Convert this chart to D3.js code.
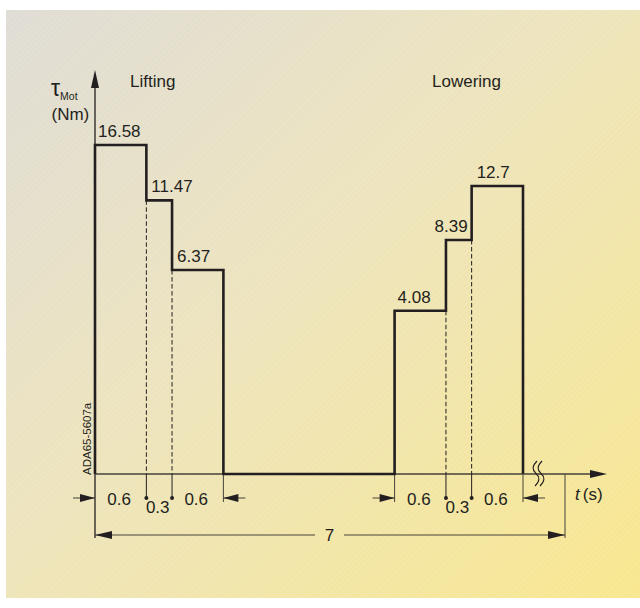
<!DOCTYPE html>
<html>
<head>
<meta charset="utf-8">
<script src="https://cdn.jsdelivr.net/npm/d3@7"></script>
<style>
  html, body { margin: 0; padding: 0; background: #ffffff; }
  svg { display: block; font-family: "Liberation Sans", Arial, Helvetica, sans-serif; }
</style>
</head>
<body>
<svg id="chart" width="640" height="608"></svg>
<script>
// Motor torque profile of one hoist cycle: lifting, pause, lowering.
const stepDurations = [0.6, 0.3, 0.6];          // s, length of each torque step
const liftTorque    = [16.58, 11.47, 6.37];     // Nm, lifting steps
const lowerTorque   = [4.08, 8.39, 12.7];       // Nm, lowering steps
const liftStart     = 0;                        // s
const lowerStart    = 3.5;                      // s
const cycleTime     = 7;                        // s
const stepLabels    = ["0.6", "0.3", "0.6"];
const phaseLabels   = ["Lifting", "Lowering"];

const svg = d3.select("#chart");
const ink = "#231f20";
const thin = "#46423a";

// ---- background panel: grey-beige to yellow with fine diagonal hatching ----
const defs = svg.append("defs");
const grad = defs.append("linearGradient").attr("id", "bg")
  .attr("x1", "0%").attr("y1", "0%").attr("x2", "100%").attr("y2", "100%");
grad.append("stop").attr("offset", "0%").attr("stop-color", "#dfdcd5");
grad.append("stop").attr("offset", "45%").attr("stop-color", "#ede4bd");
grad.append("stop").attr("offset", "100%").attr("stop-color", "#f8e78e");
const hatch = defs.append("pattern").attr("id", "hatch")
  .attr("patternUnits", "userSpaceOnUse").attr("width", 4).attr("height", 4)
  .attr("patternTransform", "rotate(45)");
hatch.append("line").attr("x1", 0).attr("y1", 0).attr("x2", 0).attr("y2", 4)
  .attr("stroke", "#ffffff").attr("stroke-width", 0.8).attr("stroke-opacity", 0.28);

svg.append("rect").attr("x", 6).attr("y", 10).attr("width", 634).attr("height", 588)
  .attr("fill", "url(#bg)");
svg.append("rect").attr("x", 6).attr("y", 10).attr("width", 634).attr("height", 588)
  .attr("fill", "url(#hatch)");

// ---- scales (time axis is broken after the lowering phase) ----
const x = d3.scaleLinear().domain([0, 5, cycleTime]).range([95, 523, 565]);
const y = d3.scaleSqrt().domain([0, 16.58]).range([474, 145]);

// build step segments
function steps(start, values) {
  let t = start;
  return values.map((v, i) => {
    const s = { t0: t, t1: t + stepDurations[i], v, i };
    t += stepDurations[i];
    return s;
  });
}
const lift = steps(liftStart, liftTorque);
const lower = steps(lowerStart, lowerTorque);

// torque profile as a step line
const profile = [{ t: liftStart, v: 0 }]
  .concat(lift.map(s => ({ t: s.t0, v: s.v })))
  .concat([{ t: lift[2].t1, v: 0 }])
  .concat(lower.map(s => ({ t: s.t0, v: s.v })))
  .concat([{ t: lower[2].t1, v: 0 }]);

// ---- axes ----
function arrowHead(tipX, tipY, dir, len = 16, half = 4) {
  let p;
  if (dir === "up") p = [[tipX, tipY], [tipX - half, tipY + len], [tipX + half, tipY + len]];
  else if (dir === "right") p = [[tipX, tipY], [tipX - len, tipY - half], [tipX - len, tipY + half]];
  else p = [[tipX, tipY], [tipX + len, tipY - half], [tipX + len, tipY + half]];
  svg.append("path").attr("d", "M" + p.join("L") + "Z").attr("fill", ink);
}

// y axis (continues down as the extension line of the cycle dimension)
svg.append("line").attr("x1", x(0)).attr("x2", x(0)).attr("y1", 538).attr("y2", 80)
  .attr("stroke", ink).attr("stroke-width", 1.3);
arrowHead(x(0), 70, "up", 18, 4);

// x axis
svg.append("line").attr("x1", x(0)).attr("x2", 596).attr("y1", y(0)).attr("y2", y(0))
  .attr("stroke", thin).attr("stroke-width", 1.3);
arrowHead(607, y(0), "right", 17, 4);

// axis break marks
[536, 541].forEach(bx => {
  svg.append("path")
    .attr("d", `M${bx + 1},461 C${bx - 4},466 ${bx - 4},470 ${bx},473.5 C${bx + 4},477 ${bx + 4},481 ${bx - 1},486`)
    .attr("fill", "none").attr("stroke", ink).attr("stroke-width", 1.1);
});

// ---- dashed step dividers ----
function dividers(seg) {
  seg.slice(1).forEach((s, k) => {
    const prev = seg[k];
    const top = y(Math.min(s.v, prev.v));
    svg.append("line").attr("x1", x(s.t0)).attr("x2", x(s.t0))
      .attr("y1", top).attr("y2", y(0))
      .attr("stroke", ink).attr("stroke-width", 1).attr("stroke-dasharray", "4.5,2.5");
  });
}
dividers(lift);
dividers(lower);

// ---- torque profile ----
const line = d3.line().x(d => x(d.t)).y(d => y(d.v)).curve(d3.curveStepAfter);
svg.append("path").datum(profile).attr("d", line)
  .attr("fill", "none").attr("stroke", ink).attr("stroke-width", 2.6)
  .attr("stroke-linejoin", "miter");

// ---- value labels ----
const fontSize = 17;
function valueLabels(seg) {
  seg.forEach((s, i) => {
    const next = seg[i + 1];
    const narrow = x(s.t1) - x(s.t0) < 35;
    const rightAlign = narrow && next && next.v > s.v;
    svg.append("text")
      .attr("x", rightAlign ? x(s.t1) - 4 : x(s.t0) + (i === 0 ? 3 : 5))
      .attr("y", y(s.v) - 8)
      .attr("text-anchor", rightAlign ? "end" : "start")
      .attr("font-size", fontSize).attr("fill", ink)
      .text(d3.format("")(s.v));
  });
}
valueLabels(lift);
valueLabels(lower);

// ---- step duration dimensions below the axis ----
const dimY = 498;
function stepDims(seg) {
  const a = x(seg[0].t0), b = x(seg[2].t1);
  [a, b].forEach(px => {
    if (px !== x(0)) {
      svg.append("line").attr("x1", px).attr("x2", px).attr("y1", y(0) + 1).attr("y2", 502)
        .attr("stroke", thin).attr("stroke-width", 1);
    }
  });
  // outside arrows pointing inward
  svg.append("line").attr("x1", a - 22).attr("x2", a).attr("y1", dimY).attr("y2", dimY)
    .attr("stroke", thin).attr("stroke-width", 1);
  arrowHead(a, dimY, "right", 15, 4);
  svg.append("line").attr("x1", b).attr("x2", b + 22).attr("y1", dimY).attr("y2", dimY)
    .attr("stroke", thin).attr("stroke-width", 1);
  arrowHead(b, dimY, "left", 15, 4);
  // inner step boundaries with dot ends
  seg.slice(1).forEach(s => {
    const px = x(s.t0);
    svg.append("line").attr("x1", px).attr("x2", px).attr("y1", y(0)).attr("y2", dimY)
      .attr("stroke", ink).attr("stroke-width", 1);
    svg.append("circle").attr("cx", px).attr("cy", dimY).attr("r", 2).attr("fill", ink);
  });
  // duration labels
  seg.forEach((s, i) => {
    svg.append("text")
      .attr("x", (x(s.t0) + x(s.t1)) / 2 - 1.5)
      .attr("y", i === 1 ? 513 : 505)
      .attr("text-anchor", "middle")
      .attr("font-size", fontSize).attr("fill", ink)
      .text(stepLabels[i]);
  });
}
stepDims(lift);
stepDims(lower);

// ---- cycle time dimension ----
const cy = 535;
svg.append("line").attr("x1", x(cycleTime)).attr("x2", x(cycleTime)).attr("y1", y(0)).attr("y2", 538)
  .attr("stroke", thin).attr("stroke-width", 1);
svg.append("line").attr("x1", x(0)).attr("x2", 315).attr("y1", cy).attr("y2", cy)
  .attr("stroke", thin).attr("stroke-width", 1.1);
svg.append("line").attr("x1", 344).attr("x2", x(cycleTime)).attr("y1", cy).attr("y2", cy)
  .attr("stroke", thin).attr("stroke-width", 1.1);
arrowHead(x(0), cy, "left", 17, 4);
arrowHead(x(cycleTime), cy, "right", 17, 4);
svg.append("text").attr("x", 329.5).attr("y", cy + 6).attr("text-anchor", "middle")
  .attr("font-size", fontSize).attr("fill", ink).text(d3.format("")(cycleTime));

// ---- titles and axis labels ----
svg.append("text").attr("x", 130).attr("y", 87).attr("font-size", fontSize).attr("fill", ink)
  .text(phaseLabels[0]);
svg.append("text").attr("x", 432).attr("y", 87).attr("font-size", fontSize).attr("fill", ink)
  .text(phaseLabels[1]);

const yLab = svg.append("text").attr("x", 51).attr("y", 96).attr("fill", ink);
yLab.append("tspan").attr("font-size", 23).text("τ");
yLab.append("tspan").attr("font-size", 10.5).attr("dx", 0).attr("dy", 4).text("Mot");
svg.append("text").attr("x", 51.5).attr("y", 120).attr("font-size", fontSize).attr("fill", ink)
  .text("(Nm)");

const xLab = svg.append("text").attr("x", 575).attr("y", 500).attr("font-size", fontSize).attr("fill", ink);
xLab.append("tspan").attr("font-style", "italic").text("t");
xLab.append("tspan").attr("dx", 3).text("(s)");

svg.append("text")
  .attr("transform", "translate(91,475) rotate(-90)")
  .attr("font-size", 11.5).attr("fill", ink)
  .text("ADA65-5607a");
</script>
</body>
</html>
